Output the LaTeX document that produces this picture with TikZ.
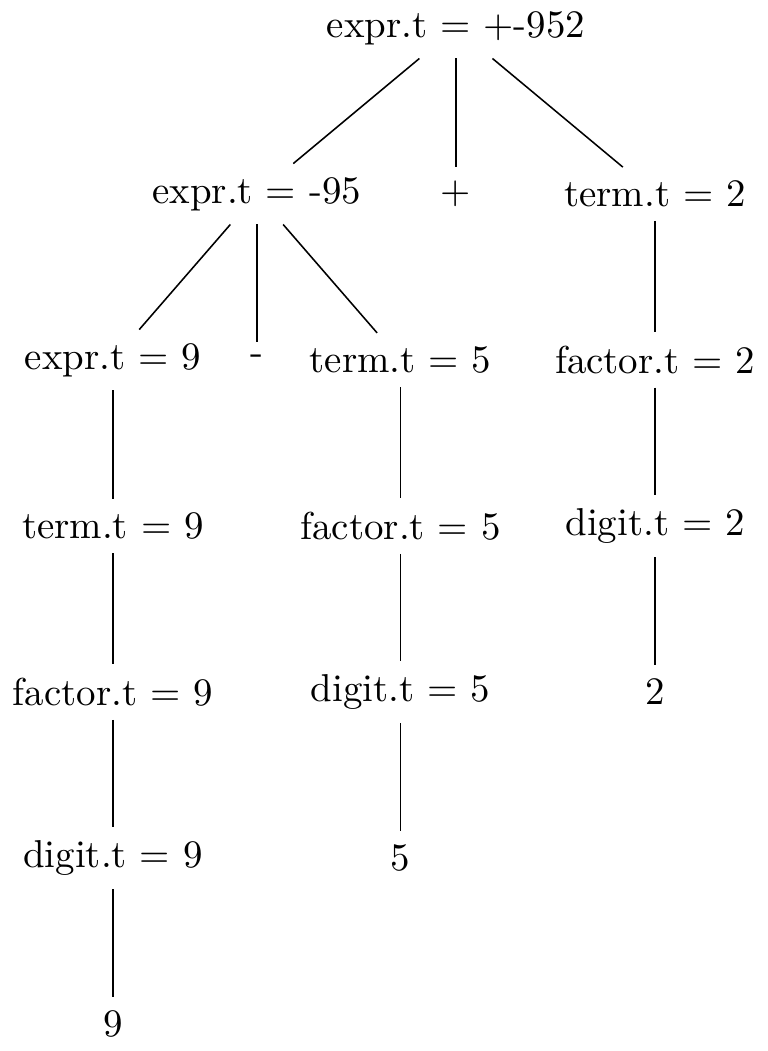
\documentclass[tikz,border=0pt]{standalone}
\begin{document}
\begin{tikzpicture}[lbl/.style={inner sep=0.3333em}, edge/.style={draw=black, line width=0.4pt}]
\useasboundingbox (-41.2mm,2.53mm) rectangle (28.19mm,-92.44mm);
% level 0
\node[lbl] (root) at (0mm,0mm) {expr.t = +-952};
% level 1
\node[lbl] (e95) at (-18mm,-15mm) {expr.t = -95};
\node[lbl] (plus) at (0mm,-15mm) {+};
\node[lbl] (t2) at (18mm,-15mm) {term.t = 2};
% level 2
\node[lbl] (e9) at (-31mm,-30mm) {expr.t = 9};
\node[lbl] (minus) at (-18mm,-30mm) {-};
\node[lbl] (t5) at (-5mm,-30mm) {term.t = 5};
\node[lbl] (f2) at (18mm,-30mm) {factor.t = 2};
% level 3
\node[lbl] (t9) at (-31mm,-45mm) {term.t = 9};
\node[lbl] (f5) at (-5mm,-45mm) {factor.t = 5};
\node[lbl] (d2) at (18mm,-45mm) {digit.t = 2};
% level 4
\node[lbl] (f9) at (-31mm,-60mm) {factor.t = 9};
\node[lbl] (d5) at (-5mm,-60mm) {digit.t = 5};
\node[lbl] (n2) at (18mm,-60mm) {2};
% level 5
\node[lbl] (d9) at (-31mm,-75mm) {digit.t = 9};
\node[lbl] (n5) at (-5mm,-75mm) {5};
% level 6
\node[lbl] (n9) at (-31mm,-90mm) {9};
% edges
\draw[edge] (root) -- (e95);
\draw[edge] (root) -- (plus);
\draw[edge] (root) -- (t2);
\draw[edge] (e95) -- (e9);
\draw[edge] (e95) -- (minus);
\draw[edge] (e95) -- (t5);
\draw[edge] (t2) -- (f2);
\draw[edge] (e9) -- (t9);
\draw[edge] (t5) -- (f5);
\draw[edge] (f2) -- (d2);
\draw[edge] (t9) -- (f9);
\draw[edge] (f5) -- (d5);
\draw[edge] (d2) -- (n2);
\draw[edge] (f9) -- (d9);
\draw[edge] (d5) -- (n5);
\draw[edge] (d9) -- (n9);
\end{tikzpicture}
\end{document}
